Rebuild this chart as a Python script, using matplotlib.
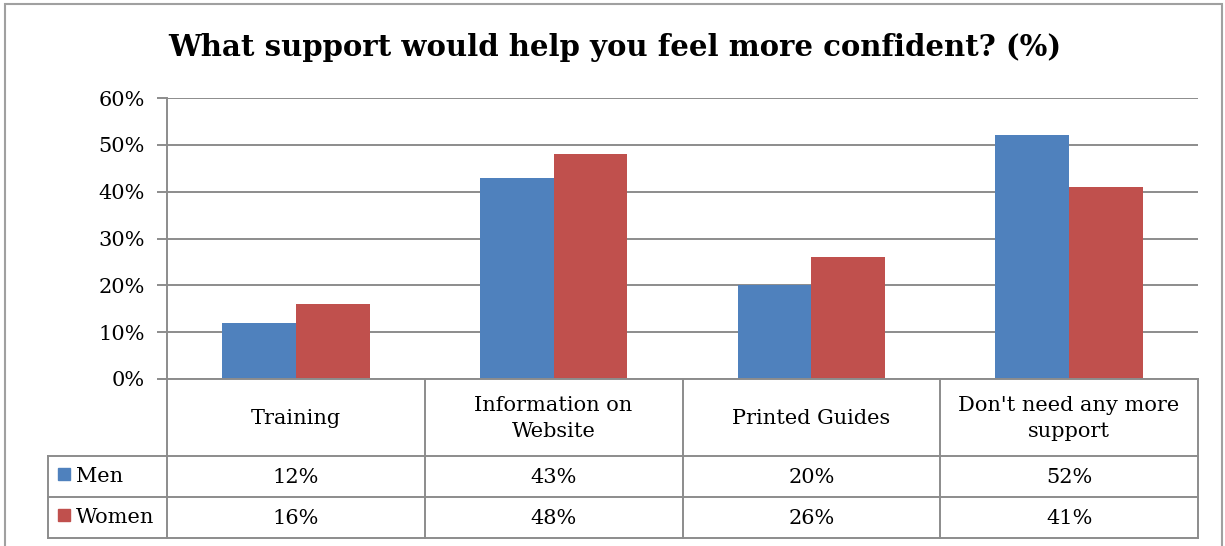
import matplotlib
matplotlib.use("Agg")
import matplotlib.pyplot as plt
from matplotlib.lines import Line2D
from matplotlib.patches import Rectangle
import numpy as np

categories = ["Training", "Information on\nWebsite", "Printed Guides", "Don't need any more\nsupport"]
men = [12, 43, 20, 52]
women = [16, 48, 26, 41]
series_names = ["Men", "Women"]
series_colors = ["#4F81BD", "#C0504D"]
yticks = [0, 10, 20, 30, 40, 50, 60]

W, H = 1225, 546
plt.rcParams["font.family"] = ["DejaVu Serif"]
fig = plt.figure(figsize=(W / 100, H / 100), dpi=100)

def fx(px):
    return px / W

def fy(py):
    return 1 - py / H

grid_c = "#8c8c8c"
ax_left, ax_right, ax_top, ax_bot = 167, 1198, 98, 379
ax = fig.add_axes([fx(ax_left), fy(ax_bot), fx(ax_right - ax_left), (ax_bot - ax_top) / H])

x = np.arange(len(categories))
bw = 1 / 3.5
ax.bar(x - bw / 2, men, bw, color=series_colors[0], zorder=3)
ax.bar(x + bw / 2, women, bw, color=series_colors[1], zorder=3)
ax.set_xlim(-0.5, len(categories) - 0.5)
ax.set_ylim(0, 60)
ax.set_yticks(yticks)
ax.set_yticklabels([f"{v}%" for v in yticks], fontsize=15)
ax.set_xticks([])
ax.yaxis.grid(True, color=grid_c, linewidth=1.4, zorder=0)
for s in ["top", "right", "bottom"]:
    ax.spines[s].set_visible(False)
ax.spines["left"].set_color(grid_c)
ax.spines["left"].set_linewidth(1.4)
ax.tick_params(axis="y", length=7, width=1.4, color=grid_c, pad=9)

# data table below the axis
cols = np.linspace(ax_left, ax_right, len(categories) + 1)
rows = [379, 456, 497, 538]
tab_left = 48

def hline(y, x0, x1):
    fig.add_artist(Line2D([fx(x0), fx(x1)], [fy(y), fy(y)], color=grid_c, lw=1.4))

def vline(xp, y0, y1):
    fig.add_artist(Line2D([fx(xp), fx(xp)], [fy(y0), fy(y1)], color=grid_c, lw=1.4))

hline(rows[0], ax_left - 7, ax_right)
for r in rows[1:]:
    hline(r, tab_left, ax_right)
for c in cols:
    vline(c, rows[0], rows[3])
vline(tab_left, rows[1], rows[3])

for i, cat in enumerate(categories):
    cx = (cols[i] + cols[i + 1]) / 2
    fig.text(fx(cx), fy((rows[0] + rows[1]) / 2 + 1), cat, ha="center", va="center",
             fontsize=15, linespacing=1.45)
    for j, vals in enumerate([men, women]):
        fig.text(fx(cx), fy((rows[j + 1] + rows[j + 2]) / 2 + 1), f"{vals[i]}%",
                 ha="center", va="center", fontsize=15)

for j, name in enumerate(series_names):
    yc = (rows[j + 1] + rows[j + 2]) / 2
    fig.add_artist(Rectangle((fx(58), fy(yc + 3)), fx(12), 12 / H,
                             color=series_colors[j], transform=fig.transFigure))
    fig.text(fx(76), fy(yc), name, ha="left", va="center", fontsize=15)

fig.text(fx(615), fy(48), "What support would help you feel more confident? (%)",
         ha="center", va="center", fontsize=21, fontweight="bold")

# outer chart border
fig.add_artist(Rectangle((fx(5), fy(560)), fx(1217), 556 / H, fill=False,
                         edgecolor="#a0a0a0", lw=1.5, transform=fig.transFigure))

fig.savefig("out.png", dpi=100)
